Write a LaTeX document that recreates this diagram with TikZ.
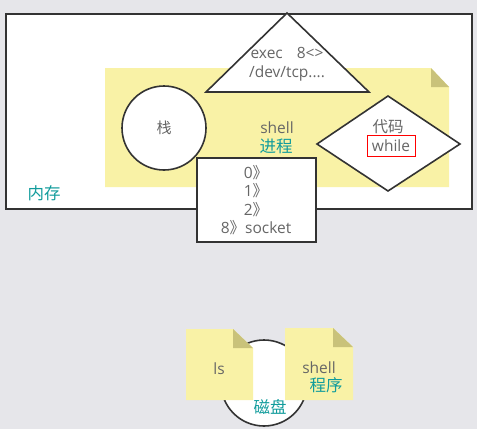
\documentclass[tikz,border=0pt]{standalone}
\usepackage{fontspec}
\setmainfont{Open Sans}
\newfontfamily\cjk{Noto Sans CJK SC}
\usetikzlibrary{positioning}
\definecolor{bggray}{HTML}{E6E6EA}
\definecolor{linegray}{HTML}{333333}
\definecolor{noteyellow}{HTML}{F9F2A6}
\definecolor{foldyellow}{HTML}{C9C27A}
\definecolor{textgray}{HTML}{666666}
\definecolor{labelteal}{HTML}{119C9C}

\begin{document}
\begin{tikzpicture}[x=1pt,y=-1pt]
      % Styles
      \tikzset{
        outline/.style={draw=linegray, line width=1.6pt, fill=white},
        graytext/.style={text=textgray, font=\fontsize{15.5}{18}\selectfont, align=center, inner sep=0pt},
        tealtext/.style={text=labelteal, font=\cjk\fontsize{16.5}{18}\selectfont, inner sep=0pt},
      }
      % Background
      \fill[bggray] (0,0) rectangle (477,429);
      % Memory
      \draw[outline] (6,14) rectangle (472,209);
      \node (memory) [tealtext] at (44,193) {内存};
      % Shell process note
      \fill[noteyellow] (105,68) -- (431,68) -- (449,87) -- (449,187) -- (105,187) -- cycle;
      \fill[foldyellow] (431,68) -- (431,87) -- (449,87) -- cycle;
      \node (shell) [graytext] at (277,128) {shell};
      \node (process) [tealtext] at (276,146) {进程};
      % Stack
      \draw[outline] (164,128) circle (42);
      \node (stack) [graytext, font=\cjk\fontsize{15}{16}\selectfont] at (164,128) {栈};
      % Exec triangle
      \draw[outline, line join=miter] (287,13) -- (369,92) -- (206,92) -- cycle;
      \node (exec) [graytext, font=\fontsize{15.5}{19}\selectfont] at (287,64) {exec\hspace{0.9em}8<>\\/dev/tcp....};
      % Code diamond
      \draw[outline] (317,144) -- (388,96) -- (460,144) -- (388,191) -- cycle;
      \node (code) [graytext, font=\cjk\fontsize{15.5}{18}\selectfont] at (388,127) {代码};
      \node (loop) [graytext, draw=red, line width=0.8pt, minimum width=48pt, minimum height=21pt] at (391,146) {while};
      % File descriptors
      \draw[outline] (197,158) rectangle (316,242);
      \node (fds) [graytext, font=\fontsize{15.5}{18.3}\selectfont] at (256,200) {0{\cjk》}\\1{\cjk》}\\2{\cjk》}\\8{\cjk》}socket};
      % Disk
      \draw[outline] (264,383) circle (43);
      % Program notes
      \fill[noteyellow] (186,329) -- (233,329) -- (253,348) -- (253,400) -- (186,400) -- cycle;
      \fill[foldyellow] (233,329) -- (233,348) -- (253,348) -- cycle;
      \node (ls) [graytext] at (219,369) {ls};
      \fill[noteyellow] (285,328) -- (333,328) -- (353,347) -- (353,400) -- (285,400) -- cycle;
      \fill[foldyellow] (333,328) -- (333,347) -- (353,347) -- cycle;
      \node (prog) [graytext] at (319,368) {shell};
      \node (program) [tealtext] at (326,385) {程序};
      \node (disk) [tealtext] at (270,407) {磁盘};
    \end{tikzpicture}
\end{document}
